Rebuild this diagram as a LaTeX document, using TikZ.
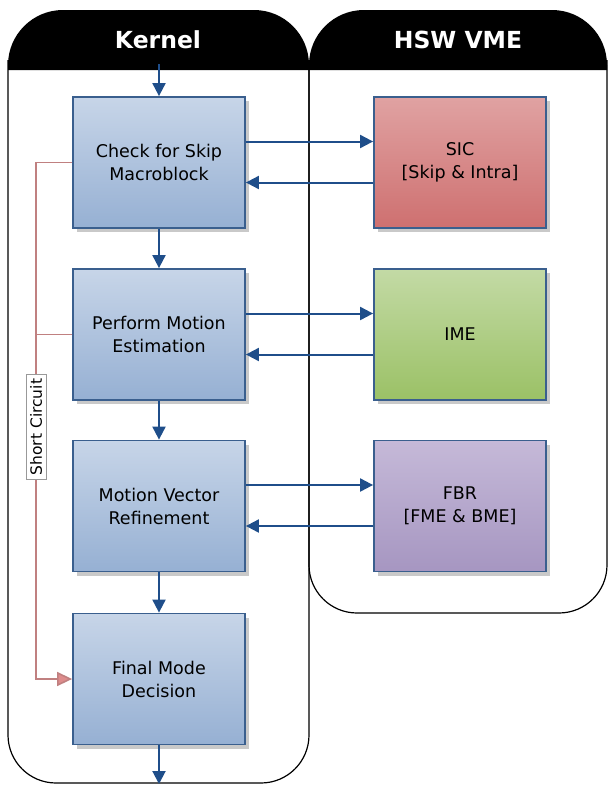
\documentclass[tikz,border=0pt]{standalone}
\usepackage{fontspec}
\setmainfont{DejaVu Sans}
\usetikzlibrary{arrows.meta,shadows}

\definecolor{flowblue}{HTML}{1F4E8A}
\definecolor{boxedge}{HTML}{3A5F8E}
\definecolor{shortred}{HTML}{C08080}
\definecolor{shorttip}{HTML}{DE8C8C}

\begin{document}
\begin{tikzpicture}[x=1pt,y=-1pt,
    lane/.style={line width=1.2pt,draw=black},
    header/.style={fill=black},
    title/.style={text=white,font=\fontsize{23.5}{26}\selectfont\bfseries},
    block/.style={draw=boxedge,line width=1.8pt,minimum width=172pt,minimum height=131pt,
        inner sep=0pt,align=center,font=\fontsize{17.5}{23}\selectfont,
        drop shadow={shadow xshift=4pt,shadow yshift=-4pt,fill=black!30,opacity=0.7}},
    kernelbox/.style={block,top color={rgb,255:red,199;green,213;blue,232},bottom color={rgb,255:red,150;green,176;blue,211}},
    sicbox/.style={block,top color={rgb,255:red,224;green,162;blue,162},bottom color={rgb,255:red,206;green,112;blue,112}},
    imebox/.style={block,top color={rgb,255:red,195;green,218;blue,165},bottom color={rgb,255:red,155;green,193;blue,102}},
    fbrbox/.style={block,top color={rgb,255:red,197;green,185;blue,216},bottom color={rgb,255:red,166;green,150;blue,193}},
    flow/.style={draw=flowblue,line width=2pt,-{Triangle[length=13pt,width=13pt]}},
    shortcut/.style={draw=shortred,line width=1.6pt,-{Triangle[length=15pt,width=14pt,fill=shorttip]}}]

\useasboundingbox (0,0) rectangle (608,785);

% swim lanes
\fill[header] (8,70) [rounded corners=55pt] -- (8,10) -- (309,10) [sharp corners] -- (309,70) -- cycle;
\fill[header] (309,70) [rounded corners=55pt] -- (309,10) -- (607,10) [sharp corners] -- (607,70) -- cycle;
\draw[lane] (8,60) [rounded corners=48pt] -- (8,783) -- (309,783) [sharp corners] -- (309,60);
\draw[lane] (309,60) [rounded corners=48pt] -- (309,613) -- (607,613) [sharp corners] -- (607,60);

\node[title] (kernel) at (158,40) {Kernel};
\node[title] (vme) at (458,40) {HSW VME};

% kernel steps
\node[kernelbox] (check) at (159,162.5) {Check for Skip\\Macroblock};
\node[kernelbox] (motion) at (159,334.5) {Perform Motion\\Estimation};
\node[kernelbox] (refine) at (159,506) {Motion Vector\\Refinement};
\node[kernelbox] (decide) at (159,679) {Final Mode\\Decision};

% vme units
\node[sicbox] (sic) at (460,162.5) {SIC\\{[Skip \& Intra]}};
\node[imebox] (ime) at (460,334.5) {IME};
\node[fbrbox] (fbr) at (460,506) {FBR\\{[FME \& BME]}};

\coordinate (in) at (159,64);
\coordinate (out) at (159,784);
\coordinate (sctop) at (36,162.5);
\coordinate (scbot) at (36,679);

\draw[flow] (in) -- (check);
\draw[flow] (check) -- (motion);
\draw[flow] (motion) -- (refine);
\draw[flow] (refine) -- (decide);
\draw[flow] (decide) -- (out);

\foreach \k/\v in {check/sic,motion/ime,refine/fbr} {
    \draw[flow] ([yshift=21pt]\k.east) -- ([yshift=21pt]\v.west);
    \draw[flow] ([yshift=-20pt]\v.west) -- ([yshift=-20pt]\k.east);
}

% short circuit path
\draw[shortcut] (check.west) -- (sctop) -- (scbot) -- (decide.west);
\draw[draw=shortred,line width=1.6pt] (motion.west) -- (motion.west -| sctop);
\node[fill=white,draw=black!40,line width=0.6pt,rotate=90,inner xsep=4pt,inner ysep=4pt,
    font=\fontsize{15.5}{18}\selectfont] (sclabel) at (36,427) {Short Circuit};

\end{tikzpicture}
\end{document}
